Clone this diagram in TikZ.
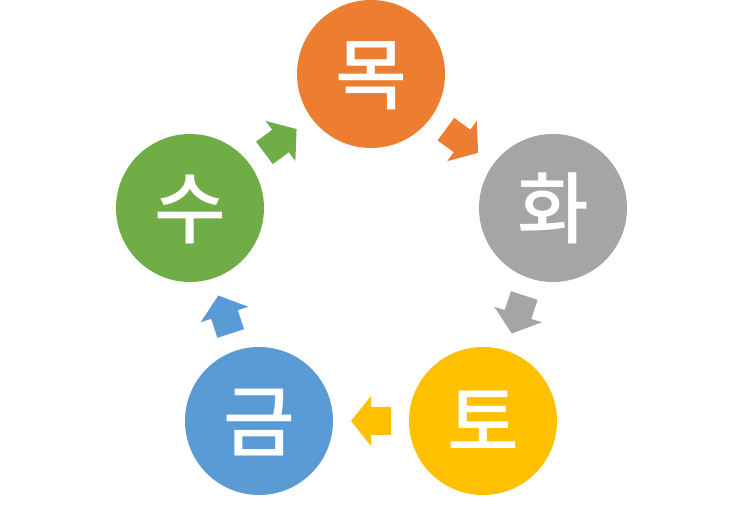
\documentclass[tikz,border=0pt]{standalone}
\usepackage{fontspec}
\newfontfamily\kr{Noto Sans CJK KR}[UprightFont=* Medium, BoldFont=* Bold]
\usetikzlibrary{calc}
\definecolor{cOrange}{HTML}{ED7D31}
\definecolor{cGray}{HTML}{A5A5A5}
\definecolor{cYellow}{HTML}{FFC000}
\definecolor{cBlue}{HTML}{5B9BD5}
\definecolor{cGreen}{HTML}{70AD47}
\tikzset{
  element/.style={circle, fill=#1, draw=none, minimum size=148pt, inner sep=0pt,
    text=white, font=\kr\fontsize{78}{80}\selectfont,
    text height=68.6pt, text depth=9.4pt},
}
\newcommand\blkarrow[3]{%
  \coordinate (m) at ($(#1)!0.5!(#2)$);
  \coordinate (t) at ($(m)!20pt!(#1)$);
  \coordinate (h) at ($(m)!20pt!(#2)$);
  \fill[#3] ($(t)!14pt!90:(h)$) -- ($(m)!14pt!90:(h)$) -- ($(m)!25pt!90:(h)$)
    -- (h) -- ($(m)!25pt!-90:(h)$) -- ($(m)!14pt!-90:(h)$) -- ($(t)!14pt!-90:(h)$) -- cycle;
}
\begin{document}
\begin{tikzpicture}[x=1pt,y=1pt]
\useasboundingbox (0,0) rectangle (743,516);
\node[element=cOrange] (mok) at (371,442) {목};
\node[element=cGray]   (hwa) at (553,308) {화};
\node[element=cYellow] (to)  at (483,95)  {토};
\node[element=cBlue]   (geum) at (259,95) {금};
\node[element=cGreen]  (su)  at (190,308) {수};
\blkarrow{mok}{hwa}{cOrange}
\blkarrow{hwa}{to}{cGray}
\blkarrow{to}{geum}{cYellow}
\blkarrow{geum}{su}{cBlue}
\blkarrow{su}{mok}{cGreen}
\end{tikzpicture}
\end{document}
